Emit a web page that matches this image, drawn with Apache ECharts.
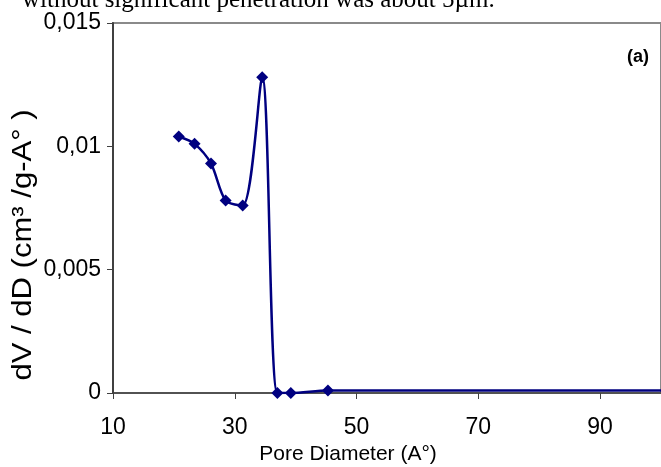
<!DOCTYPE html>
<html>
<head>
<meta charset="utf-8">
<script src="https://cdn.jsdelivr.net/npm/echarts@6/dist/echarts.min.js"></script>
<style>
  html, body { margin: 0; padding: 0; background: #fff; }
  #chart { width: 661px; height: 467px; }
</style>
</head>
<body>
<div id="chart"></div>
<script>
// Pore size distribution: dV/dD against pore diameter
const poreDiameter = [20.8, 23.4, 26.1, 28.5, 31.3, 34.5, 37.0, 39.2, 45.3, 120];
const dVdD = [0.0104, 0.0101, 0.0093, 0.0078, 0.0076, 0.0128, 0.0, 0.0, 0.0001, 0.0001];
const xTicks = [10, 30, 50, 70, 90];
const yTicks = [0, 0.005, 0.01, 0.015];

const caption = 'without significant penetration was about 5µm.';
const xTitle = 'Pore Diameter (A°)';
const yTitle = 'dV / dD (cm³ /g-A° )';
const panelTag = '(a)';

const points = poreDiameter.map((x, i) => [x, dVdD[i]]);

const chart = echarts.init(document.getElementById('chart'), null, { renderer: 'canvas' });

const sans = 'Liberation Sans, Arial, sans-serif';

chart.setOption({
  animation: false,
  backgroundColor: '#ffffff',
  grid: {
    left: 113, right: -1, top: 23, bottom: 74,
    show: true, borderColor: '#8a8a8a', borderWidth: 2, backgroundColor: 'transparent'
  },
  xAxis: {
    type: 'value',
    min: 10, max: 100, interval: 20,
    axisLine: { show: true, lineStyle: { color: '#404040', width: 1.5 } },
    axisTick: { show: true, inside: false, length: 6, lineStyle: { color: '#404040', width: 1 } },
    axisLabel: {
      margin: 23, fontSize: 23, fontFamily: sans, color: '#000',
      showMaxLabel: false,
      formatter: v => (xTicks.indexOf(Math.round(v)) >= 0 ? String(Math.round(v)) : '')
    },
    splitLine: { show: false }
  },
  yAxis: {
    type: 'value',
    min: 0, max: 0.015, interval: 0.005,
    axisLine: { show: true, lineStyle: { color: '#404040', width: 2 } },
    axisTick: { show: true, inside: false, length: 6, lineStyle: { color: '#404040', width: 1 } },
    axisLabel: {
      margin: 12, fontSize: 23, fontFamily: sans, color: '#000',
      formatter: v => {
        const t = yTicks.find(k => Math.abs(k - v) < 1e-9);
        return t === undefined ? '' : String(+t.toFixed(3)).replace('.', ',');
      }
    },
    splitLine: { show: false }
  },
  series: [{
    type: 'line',
    data: points,
    smooth: 0.3,
    clip: true,
    symbol: 'diamond',
    symbolSize: 12,
    showAllSymbol: true,
    lineStyle: { color: '#000080', width: 2.5 },
    itemStyle: { color: '#000080' }
  }],
  graphic: [
    {
      type: 'text', left: 22, top: -12,
      style: { text: caption, fontSize: 25, fontFamily: 'Liberation Serif, Times New Roman, serif', fill: '#000' }
    },
    {
      type: 'text', x: 638, y: 57,
      style: { text: panelTag, fontSize: 18, fontWeight: 'bold', fontFamily: sans, fill: '#000', align: 'center', verticalAlign: 'middle' }
    },
    {
      type: 'text', x: 348, y: 454,
      style: { text: xTitle, fontSize: 21, fontFamily: sans, fill: '#000', align: 'center', verticalAlign: 'middle' }
    },
    {
      type: 'text', x: 24, y: 245, rotation: Math.PI / 2, scaleX: 1.15,
      style: { text: yTitle, fontSize: 27, fontFamily: sans, fill: '#000', align: 'center', verticalAlign: 'middle' }
    }
  ]
});
</script>
</body>
</html>
